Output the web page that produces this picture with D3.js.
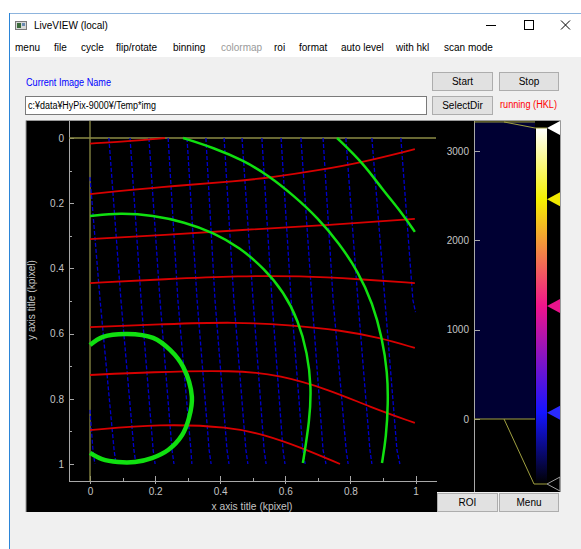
<!DOCTYPE html>
<html><head><meta charset="utf-8">
<script src="https://cdn.jsdelivr.net/npm/d3@7"></script>
<style>html,body{margin:0;padding:0;background:#fff;overflow:hidden}text{font-family:"Liberation Sans",Arial,sans-serif}</style>
</head><body>
<svg id="c" width="581" height="549"></svg>
<script>
// ---------------- data ----------------
const windowTitle = "LiveVIEW (local)";
const menuLabels = ["menu","file","cycle","flip/rotate","binning","colormap","roi","format","auto level","with hkl","scan mode"];
const menuDisabled = ["colormap"];
const imageNameLabel = "Current Image Name";
const imagePath = "c:¥data¥HyPix-9000¥/Temp*img";
const statusText = "running (HKL)";
const xTickValues = [0,0.2,0.4,0.6,0.8,1];
const xTickLabels = ["0","0.2","0.4","0.6","0.8","1"];
const xMinorTicks = [0.1,0.3,0.5,0.7,0.9];
const yTickValues = [0,0.2,0.4,0.6,0.8,1];
const yTickLabels = ["0","0.2","0.4","0.6","0.8","1"];
const yMinorTicks = [0.1,0.3,0.5,0.7,0.9];
const xTitle = "x axis title (kpixel)";
const yTitle = "y axis title (kpixel)";
const cursorPoint = [0,0];
const cbTickValues = [0,1000,2000,3000];
const cbTickLabels = ["0","1000","2000","3000"];
const histTop = 3325;
const levelMin = 0, levelMax = 3325;
const cmapStops = [0,0.2,0.5,0.8,1];
const cmapColors = ["#000000","#1414ff","#f0148c","#f5f000","#ffffff"];
const markerColors = ["#000000","#2a2aff","#e8148c","#f0e800","#ffffff"];

const redLines = [
  [[0,0.017],[0.117,0.010],[0.230,0]],
  [[0,0.172],[0.215,0.150],[0.461,0.132],[0.562,0.120],[0.707,0.098],[0.839,0.074],[0.998,0.034]],
  [[0,0.310],[0.230,0.298],[0.461,0.282],[0.737,0.267],[0.998,0.248]],
  [[0,0.445],[0.230,0.433],[0.461,0.423],[0.645,0.423],[0.829,0.433],[0.998,0.445]],
  [[0,0.580],[0.230,0.571],[0.445,0.564],[0.614,0.574],[0.768,0.589],[0.891,0.613],[0.998,0.644]],
  [[0,0.727],[0.184,0.718],[0.445,0.712],[0.584,0.727],[0.737,0.773],[0.860,0.825],[0.998,0.874]],
  [[0,0.896],[0.215,0.877],[0.430,0.886],[0.538,0.911],[0.645,0.948],[0.768,1.0]]
];
const blueLines = [
  [[0,0.834],[0.009,0.957],[0.015,1.0]],
  [[0,0.120],[0.031,0.497],[0.074,0.957],[0.080,1.0]],
  [[0.058,0],[0.095,0.497],[0.135,0.957],[0.141,1.0]],
  [[0.123,0],[0.157,0.497],[0.194,0.957],[0.200,1.0]],
  [[0.181,0],[0.215,0.497],[0.252,0.957],[0.258,1.0]],
  [[0.240,0],[0.270,0.497],[0.310,0.957],[0.313,1.0]],
  [[0.298,0],[0.329,0.497],[0.366,0.957],[0.372,1.0]],
  [[0.356,0],[0.384,0.497],[0.421,0.957],[0.427,1.0]],
  [[0.412,0],[0.442,0.497],[0.479,0.957],[0.485,1.0]],
  [[0.467,0],[0.501,0.497],[0.535,0.957],[0.541,1.0]],
  [[0.528,0],[0.559,0.497],[0.593,0.957],[0.599,1.0]],
  [[0.587,0],[0.618,0.497],[0.654,0.957],[0.661,1.0]],
  [[0.648,0],[0.682,0.497],[0.716,0.957],[0.725,1.0]],
  [[0.716,0],[0.747,0.497],[0.787,0.957],[0.793,1.0]],
  [[0.786,0],[0.823,0.497],[0.860,0.957],[0.866,1.0]],
  [[0.866,0],[0.906,0.497],[0.943,0.957],[0.952,1.0]],
  [[0.955,0],[0.992,0.497],[1.0,0.534]]
];
const greenArcs = [
  [[0,0.239],[0.092,0.230],[0.194,0.237],[0.290,0.258],[0.380,0.290],[0.460,0.336],[0.535,0.400],[0.595,0.472],[0.640,0.560],[0.668,0.660],[0.680,0.764],[0.675,0.865],[0.654,0.997]],
  [[0.286,0],[0.380,0.030],[0.470,0.068],[0.550,0.116],[0.625,0.176],[0.700,0.245],[0.765,0.322],[0.825,0.412],[0.868,0.506],[0.898,0.615],[0.914,0.720],[0.916,0.813],[0.910,0.917],[0.897,0.997]],
  [[0.759,0],[0.839,0.077],[0.900,0.160],[0.952,0.222],[0.998,0.288]]
];
const greenCircle = [[0,0.635],[0.040,0.610],[0.114,0.601],[0.194,0.613],[0.246,0.650],[0.286,0.702],[0.313,0.794],[0.304,0.859],[0.283,0.911],[0.240,0.957],[0.190,0.982],[0.138,0.994],[0.086,0.994],[0.037,0.985],[0,0.966]];

// ---------------- layout ----------------
const svg = d3.select("#c");
const menuX = [15,54,81,116,173,221,274,299,341,396,444];
const NARROW = '"Liberation Sans Narrow","DejaVu Sans Condensed","Liberation Sans",sans-serif';
const gridCol = "#c4c4c4";

// window
svg.append("rect").attr("x",0).attr("y",0).attr("width",581).attr("height",549).attr("fill","#ffffff");
svg.append("rect").attr("x",9).attr("y",13).attr("width",572).attr("height",536).attr("fill","#f0f0f0");
svg.append("rect").attr("x",10).attr("y",14).attr("width",571).attr("height",43).attr("fill","#ffffff");
svg.append("line").attr("x1",9).attr("x2",581).attr("y1",13.5).attr("y2",13.5).attr("stroke","#8db4dd");
svg.append("line").attr("x1",9.5).attr("x2",9.5).attr("y1",13).attr("y2",549).attr("stroke","#2b85d8");
// icon
const ic = svg.append("g");
ic.append("rect").attr("x",15.5).attr("y",21.5).attr("width",11).attr("height",8).attr("fill","#d8d8d8").attr("stroke","#7a7a7a");
ic.append("rect").attr("x",17).attr("y",23).attr("width",4).attr("height",5).attr("fill","#3a6a3a");
ic.append("rect").attr("x",22).attr("y",23).attr("width",3).attr("height",3).attr("fill","#6a8ab0");
svg.append("text").attr("x",34).attr("y",29).attr("font-size",10).attr("fill","#000").text(windowTitle);
// window controls
svg.append("line").attr("x1",486).attr("x2",496).attr("y1",25.5).attr("y2",25.5).attr("stroke","#000");
svg.append("rect").attr("x",524.5).attr("y",20.5).attr("width",9).attr("height",9).attr("fill","none").attr("stroke","#000");
svg.append("path").attr("d","M561,20.5L570,29.5M570,20.5L561,29.5").attr("stroke","#000").attr("fill","none");
// menu
svg.append("g").selectAll("text").data(menuLabels).join("text")
  .attr("x",(d,i)=>menuX[i]).attr("y",51).attr("font-size",10)
  .attr("fill",d=>menuDisabled.includes(d)?"#9a9a9a":"#000").text(d=>d);

// controls row
svg.append("text").attr("x",26).attr("y",86).attr("font-size",10).attr("fill","#0000ff")
  .attr("textLength",85).attr("lengthAdjust","spacingAndGlyphs").text(imageNameLabel);
function button(x0,y0,w,h,label){
  svg.append("rect").attr("x",x0+0.5).attr("y",y0+0.5).attr("width",w-1).attr("height",h-1)
    .attr("fill","#e1e1e1").attr("stroke","#adadad");
  svg.append("text").attr("x",x0+w/2).attr("y",y0+h/2+3.5).attr("text-anchor","middle")
    .attr("font-size",10).attr("fill","#000").text(label);
}
button(432,72,61,19,"Start");
button(499,72,60,19,"Stop");
button(432,96,61,19,"SelectDir");
svg.append("rect").attr("x",25.5).attr("y",96.5).attr("width",401).attr("height",18).attr("fill","#fff").attr("stroke","#7a7a7a");
svg.append("text").attr("x",28).attr("y",109).attr("font-size",10).attr("fill","#000")
  .attr("textLength",128).attr("lengthAdjust","spacingAndGlyphs").text(imagePath);
svg.append("text").attr("x",500).attr("y",108).attr("font-size",10).attr("fill","#ff0000")
  .attr("textLength",57).attr("lengthAdjust","spacingAndGlyphs").text(statusText);

// ---------------- plot panel ----------------
svg.append("rect").attr("x",26).attr("y",121).attr("width",411).attr("height",391).attr("fill","#000");
svg.append("rect").attr("x",437).attr("y",121).attr("width",123).attr("height",371).attr("fill","#000");
svg.append("path").attr("d","M26,512V120.5H560.5V492").attr("fill","none").attr("stroke","#9a9a9a");

const x = d3.scaleLinear().domain([0,1]).range([90,415.5]);
const y = d3.scaleLinear().domain([0,1]).range([138,464]);
const axisLeftX = 69, axisBottomY = 481;

svg.append("line").attr("x1",axisLeftX+0.5).attr("x2",axisLeftX+0.5).attr("y1",121).attr("y2",axisBottomY+0.5).attr("stroke","#a8a8a8");
svg.append("line").attr("x1",axisLeftX).attr("x2",437).attr("y1",axisBottomY+0.5).attr("y2",axisBottomY+0.5).attr("stroke","#a8a8a8");
const gx = svg.append("g").attr("transform",`translate(0,${axisBottomY+0.5})`);
gx.call(d3.axisBottom(x).tickValues(xTickValues).tickFormat((d,i)=>xTickLabels[i]).tickSize(0).tickPadding(6))
  .call(g=>g.select(".domain").remove());
gx.selectAll("text").attr("fill",gridCol).attr("font-size",10).attr("font-family",NARROW);
svg.append("g").selectAll("line").data(xTickValues).join("line")
  .attr("x1",d=>Math.round(x(d))+0.5).attr("x2",d=>Math.round(x(d))+0.5)
  .attr("y1",axisBottomY-5).attr("y2",axisBottomY+3).attr("stroke","#a8a8a8");
svg.append("g").selectAll("line").data(xMinorTicks).join("line")
  .attr("x1",d=>Math.round(x(d))+0.5).attr("x2",d=>Math.round(x(d))+0.5)
  .attr("y1",axisBottomY-3).attr("y2",axisBottomY).attr("stroke","#a8a8a8");
const gy = svg.append("g").attr("transform",`translate(${axisLeftX},0)`);
gy.call(d3.axisLeft(y).tickValues(yTickValues).tickFormat((d,i)=>yTickLabels[i]).tickSize(0).tickPadding(5))
  .call(g=>g.select(".domain").remove());
gy.selectAll("text").attr("fill",gridCol).attr("font-size",10).attr("font-family",NARROW);
svg.append("g").selectAll("line").data(yTickValues).join("line")
  .attr("y1",d=>Math.round(y(d))+0.5).attr("y2",d=>Math.round(y(d))+0.5)
  .attr("x1",axisLeftX).attr("x2",axisLeftX+5).attr("stroke","#a8a8a8");
svg.append("g").selectAll("line").data(yMinorTicks).join("line")
  .attr("y1",d=>Math.round(y(d))+0.5).attr("y2",d=>Math.round(y(d))+0.5)
  .attr("x1",axisLeftX).attr("x2",axisLeftX+3).attr("stroke","#a8a8a8");
svg.append("text").attr("x",252).attr("y",510).attr("text-anchor","middle").attr("font-size",10)
  .attr("font-family",NARROW).attr("fill",gridCol).attr("textLength",81).attr("lengthAdjust","spacingAndGlyphs").text(xTitle);
svg.append("text").attr("transform","translate(35,300) rotate(-90)").attr("text-anchor","middle").attr("font-size",10)
  .attr("font-family",NARROW).attr("fill",gridCol).attr("textLength",80).attr("lengthAdjust","spacingAndGlyphs").text(yTitle);

const olive = "#8c8c46";
svg.append("line").attr("x1",axisLeftX).attr("x2",436).attr("y1",y(cursorPoint[1])).attr("y2",y(cursorPoint[1])).attr("stroke",olive).attr("stroke-width",1.3);
svg.append("line").attr("x1",x(cursorPoint[0])).attr("x2",x(cursorPoint[0])).attr("y1",121).attr("y2",axisBottomY).attr("stroke",olive).attr("stroke-width",1.3);

const line = d3.line().x(d=>x(d[0])).y(d=>y(d[1]));
const smooth = d3.line().x(d=>x(d[0])).y(d=>y(d[1])).curve(d3.curveBasis);
const closedish = d3.line().x(d=>x(d[0])).y(d=>y(d[1])).curve(d3.curveCatmullRom.alpha(0.5));

svg.append("g").selectAll("path").data(blueLines).join("path")
  .attr("d",line).attr("fill","none").attr("stroke","#0000cc").attr("stroke-width",1.3).attr("stroke-dasharray","4,2");
svg.append("g").selectAll("path").data(redLines).join("path")
  .attr("d",smooth).attr("fill","none").attr("stroke","#d80000").attr("stroke-width",1.8);
svg.append("g").selectAll("path").data(greenArcs).join("path")
  .attr("d",smooth).attr("fill","none").attr("stroke","#10e010").attr("stroke-width",2.5);
svg.append("path").datum(greenCircle).attr("d",closedish).attr("fill","none").attr("stroke","#10e010").attr("stroke-width",4.5);

// ---------------- colour bar ----------------
const cb = d3.scaleLinear().domain([0,3000]).range([419,151]);
const cbAxisX = 474;
svg.append("rect").attr("x",cbAxisX).attr("y",cb(histTop)).attr("width",61).attr("height",cb(0)-cb(histTop)).attr("fill","#000033");
svg.append("line").attr("x1",cbAxisX+0.5).attr("x2",cbAxisX+0.5).attr("y1",121).attr("y2",492).attr("stroke","#a8a8a8");
const gcb = svg.append("g").attr("transform",`translate(${cbAxisX},0)`);
gcb.call(d3.axisLeft(cb).tickValues(cbTickValues).tickFormat((d,i)=>cbTickLabels[i]).tickSize(0).tickPadding(5))
  .call(g=>g.select(".domain").remove());
gcb.selectAll("text").attr("fill",gridCol).attr("font-size",10).attr("font-family",NARROW);
svg.append("g").selectAll("line").data(cbTickValues).join("line")
  .attr("y1",d=>Math.round(cb(d))+0.5).attr("y2",d=>Math.round(cb(d))+0.5)
  .attr("x1",cbAxisX).attr("x2",cbAxisX+6).attr("stroke","#a8a8a8");

const lv = d3.scaleLinear().domain([levelMin,levelMax]).range([484,128]);
const defs = svg.append("defs");
const grad = defs.append("linearGradient").attr("id","cmap").attr("x1",0).attr("x2",0).attr("y1",1).attr("y2",0);
grad.selectAll("stop").data(cmapStops).join("stop").attr("offset",d=>d).attr("stop-color",(d,i)=>cmapColors[i]);
svg.append("rect").attr("x",536).attr("y",lv(levelMax)).attr("width",11).attr("height",lv(levelMin)-lv(levelMax)).attr("fill","url(#cmap)");
svg.append("path").attr("d",`M${cbAxisX},${cb(histTop)}H535M504,${cb(histTop)}L535,${lv(levelMax)}H547`).attr("fill","none").attr("stroke","#a0a040").attr("stroke-width",1);
svg.append("path").attr("d",`M${cbAxisX},${cb(0)}H535M504,${cb(0)}L534,${lv(levelMin)}H547`).attr("fill","none").attr("stroke","#a0a040").attr("stroke-width",1);
svg.append("g").selectAll("path").data(cmapStops).join("path")
  .attr("d",d=>{const yy=lv(levelMin+d*(levelMax-levelMin));return `M547,${yy}L560,${yy-7}L560,${yy+7}Z`;})
  .attr("fill",(d,i)=>markerColors[i]).attr("stroke",(d,i)=>i===0?"#a0a0a0":"none");

button(437,493,61,19,"ROI");
button(499,493,60,19,"Menu");
</script>
</body></html>
